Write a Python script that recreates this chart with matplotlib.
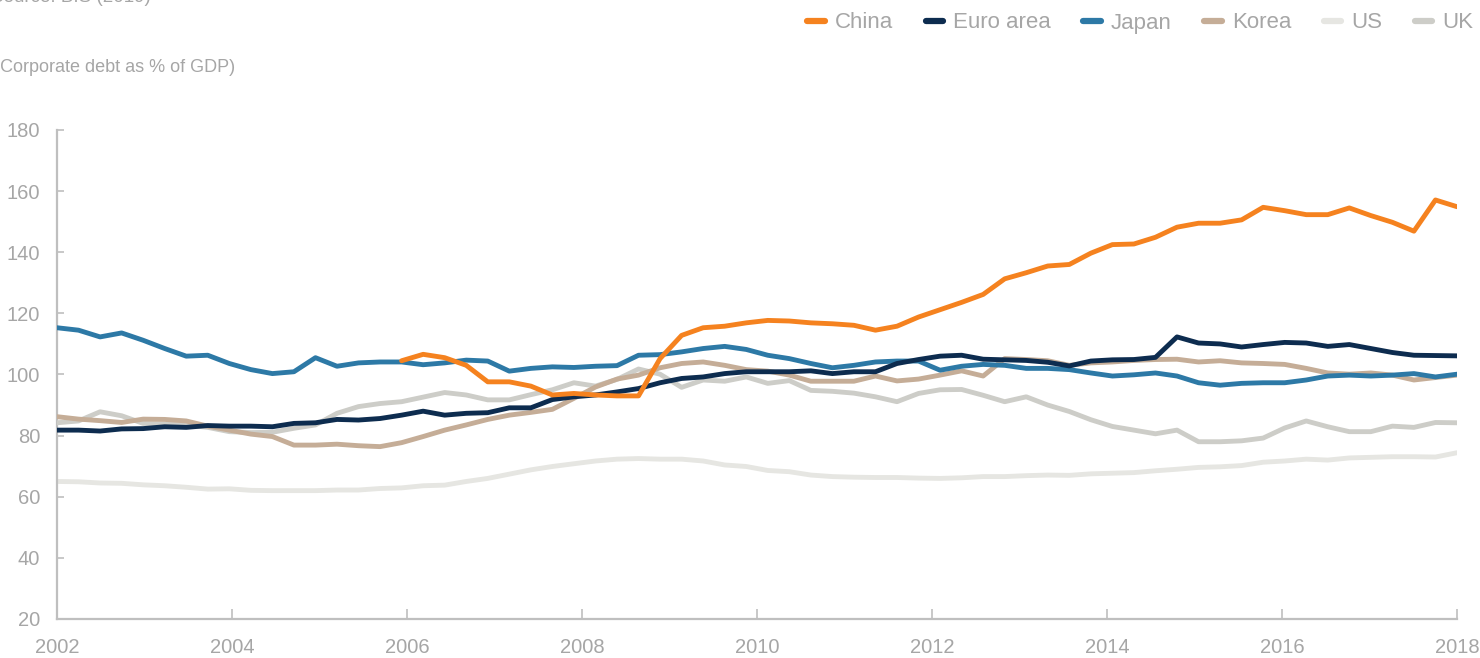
import numpy as np
import matplotlib
matplotlib.use("Agg")
import matplotlib.pyplot as plt

# ---------------- data (quarterly, corporate debt as % of GDP) ----------------
years = [2002, 2004, 2006, 2008, 2010, 2012, 2014, 2016, 2018]
y_ticks = [20, 40, 60, 80, 100, 120, 140, 160, 180]

japan = [115.3, 114.5, 112.3, 113.6, 111.2, 108.5, 106.0, 106.3, 103.6, 101.6, 100.3, 100.9, 105.5, 102.7, 103.8, 104.1, 104.1,
         103.2, 103.8, 104.7, 104.4, 101.1, 102.0, 102.5, 102.3, 102.7, 102.9, 106.3, 106.5, 107.4, 108.5, 109.2, 108.2, 106.3,
         105.2, 103.6, 102.2, 103.0, 104.1, 104.4, 104.4, 101.4, 102.7, 103.3, 103.0, 102.0, 102.0, 101.6, 100.5, 99.5, 99.9,
         100.5, 99.5, 97.3, 96.5, 97.1, 97.3, 97.3, 98.2, 99.5, 99.8, 99.5, 99.8, 100.3, 99.2, 100.1]

euro = [81.8, 81.8, 81.5, 82.2, 82.3, 82.9, 82.7, 83.3, 83.1, 83.1, 82.9, 84.0, 84.2, 85.3, 85.1, 85.6, 86.7,
        88.0, 86.7, 87.3, 87.5, 89.1, 89.1, 91.8, 92.7, 93.3, 94.3, 95.4, 97.3, 98.7, 99.2, 100.3, 100.9, 100.9,
        100.9, 101.2, 100.3, 100.9, 100.9, 103.6, 104.9, 106.0, 106.3, 105.0, 104.8, 104.6, 104.0, 102.8, 104.4, 104.8, 104.9,
        105.6, 112.3, 110.3, 110.0, 109.0, 109.8, 110.5, 110.3, 109.2, 109.8, 108.5, 107.2, 106.3, 106.2, 106.1]

korea = [86.2, 85.4, 84.9, 84.3, 85.4, 85.3, 84.8, 83.1, 81.8, 80.5, 79.7, 76.9, 76.9, 77.2, 76.7, 76.4, 77.7,
         79.7, 81.8, 83.5, 85.3, 86.7, 87.6, 88.6, 92.2, 95.9, 98.5, 99.8, 102.2, 103.6, 104.1, 103.0, 101.6, 101.1,
         99.8, 97.8, 97.8, 97.8, 99.5, 97.9, 98.5, 99.8, 101.2, 99.5, 105.2, 104.9, 104.5, 103.0, 103.8, 104.1, 104.6,
         104.9, 105.0, 104.1, 104.5, 103.8, 103.6, 103.3, 102.0, 100.5, 100.1, 100.5, 99.8, 98.2, 99.0, 99.8]

uk = [84.2, 84.8, 87.8, 86.5, 84.0, 83.8, 83.5, 82.7, 81.3, 81.0, 81.1, 82.4, 83.5, 87.3, 89.5, 90.5, 91.1,
      92.6, 94.1, 93.3, 91.7, 91.7, 93.4, 95.0, 97.3, 96.2, 98.4, 101.8, 100.1, 95.8, 98.2, 97.8, 99.2, 97.1,
      98.0, 94.8, 94.5, 93.9, 92.7, 91.1, 93.8, 95.0, 95.1, 93.2, 91.1, 92.7, 90.0, 87.9, 85.2, 83.0, 81.8,
      80.6, 81.8, 78.0, 78.0, 78.3, 79.2, 82.5, 84.8, 82.9, 81.3, 81.3, 83.1, 82.7, 84.3, 84.2]

us = [65.0, 64.9, 64.5, 64.4, 63.9, 63.6, 63.1, 62.5, 62.6, 62.1, 62.0, 62.0, 62.0, 62.2, 62.2, 62.7, 62.9, 63.6, 63.8, 65.0, 66.0,
      67.4, 68.8, 69.9, 70.8, 71.7, 72.3, 72.5, 72.3, 72.3, 71.7, 70.4, 69.9, 68.6, 68.2, 67.1, 66.6, 66.4, 66.3, 66.3, 66.1, 66.0, 66.2,
      66.6, 66.6, 66.9, 67.1, 67.0, 67.5, 67.7, 67.9, 68.5, 69.0, 69.6, 69.8, 70.2, 71.3, 71.7, 72.3, 72.0, 72.7, 72.9, 73.1, 73.1, 73.0, 74.4]

# China series starts in 2006 (17th observation)
china_first_obs = 16
china = [104.5, 106.6, 105.5, 103.0, 97.6, 97.6, 96.2, 93.3, 93.8, 93.3, 93.0, 93.0, 105.2, 112.8, 115.3, 115.8, 116.9, 117.7,
         117.5, 116.9, 116.6, 116.1, 114.5, 115.8, 118.8, 121.2,
         123.6, 126.2, 131.3, 133.3, 135.5, 136.0, 139.7, 142.5, 142.7, 144.9, 148.2, 149.5, 149.5, 150.6, 154.7, 153.6,
         152.3, 152.3, 154.5, 152.0, 149.8, 146.9, 157.1, 154.9]

series_names = ["China", "Euro area", "Japan", "Korea", "US", "UK"]
colors = {"China": "#F5821F", "Euro area": "#0D2C4F", "Japan": "#2D79A6",
          "Korea": "#C5AD97", "US": "#E6E6E2", "UK": "#CDCDC8"}

# ---------------- figure ----------------
plt.rcParams['font.family'] = ['Liberation Sans', 'DejaVu Sans']
TXT = "#A6A6A6"
SPINE = "#BFBFBF"

fig = plt.figure(figsize=(14.8, 6.58), dpi=100)
ax = fig.add_axes([57 / 1480, 1 - 619 / 658, (1457 - 57) / 1480, (619 - 130) / 658])

n = len(japan)
x = np.arange(n)
xc = np.arange(china_first_obs, china_first_obs + len(china))

data = {"China": (xc, china), "Euro area": (x, euro), "Japan": (x, japan),
        "Korea": (x, korea), "US": (x, us), "UK": (x, uk)}
zorders = {"US": 2, "UK": 3, "Korea": 4, "Japan": 5, "Euro area": 6, "China": 7}

handles = {}
for name in series_names:
    xs, ys = data[name]
    (h,) = ax.plot(xs, ys, color=colors[name], lw=3.5, zorder=zorders[name],
                   solid_capstyle="round", solid_joinstyle="round", label=name)
    handles[name] = h

ax.set_xlim(0, n - 1)
ax.set_ylim(20, 180)
ax.set_yticks(y_ticks)
ax.set_yticklabels([str(v) for v in y_ticks])
year_pos = [(yr - years[0]) * (n - 1) / (years[-1] - years[0]) for yr in years]
ax.set_xticks(year_pos)
ax.set_xticklabels([str(yr) for yr in years])

for s in ["top", "right"]:
    ax.spines[s].set_visible(False)
for s in ["left", "bottom"]:
    ax.spines[s].set_color(SPINE)
    ax.spines[s].set_linewidth(1.6)

ax.tick_params(axis="y", direction="in", length=5, width=1.2, color=SPINE,
               labelcolor=TXT, labelsize=14.5, pad=12)
ax.tick_params(axis="x", direction="in", length=7, width=1.2, color=SPINE,
               labelcolor=TXT, labelsize=14.5, pad=14)
for lbl in ax.get_xticklabels() + ax.get_yticklabels():
    lbl.set_clip_on(False)

fig.text(-0.006, 1.004, "Source: BIS (2019)", color=TXT, fontsize=13.5, ha="left", va="center")
fig.text(-0.004, 1 - 68 / 658, "(Corporate debt as % of GDP)", color=TXT, fontsize=13,
         ha="left", va="center")

leg = fig.legend([handles[nm] for nm in series_names], series_names, ncol=6,
                 loc="center right", bbox_to_anchor=(0.9955, 1 - 23 / 658),
                 frameon=False, fontsize=16, handlelength=0.8, handletextpad=0.45,
                 columnspacing=1.45, borderaxespad=0, borderpad=0)
for t in leg.get_texts():
    t.set_color(TXT)
for lh in leg.get_lines():
    lh.set_linewidth(4.5)
    lh.set_solid_capstyle("round")

fig.savefig("out.png", dpi=100)
